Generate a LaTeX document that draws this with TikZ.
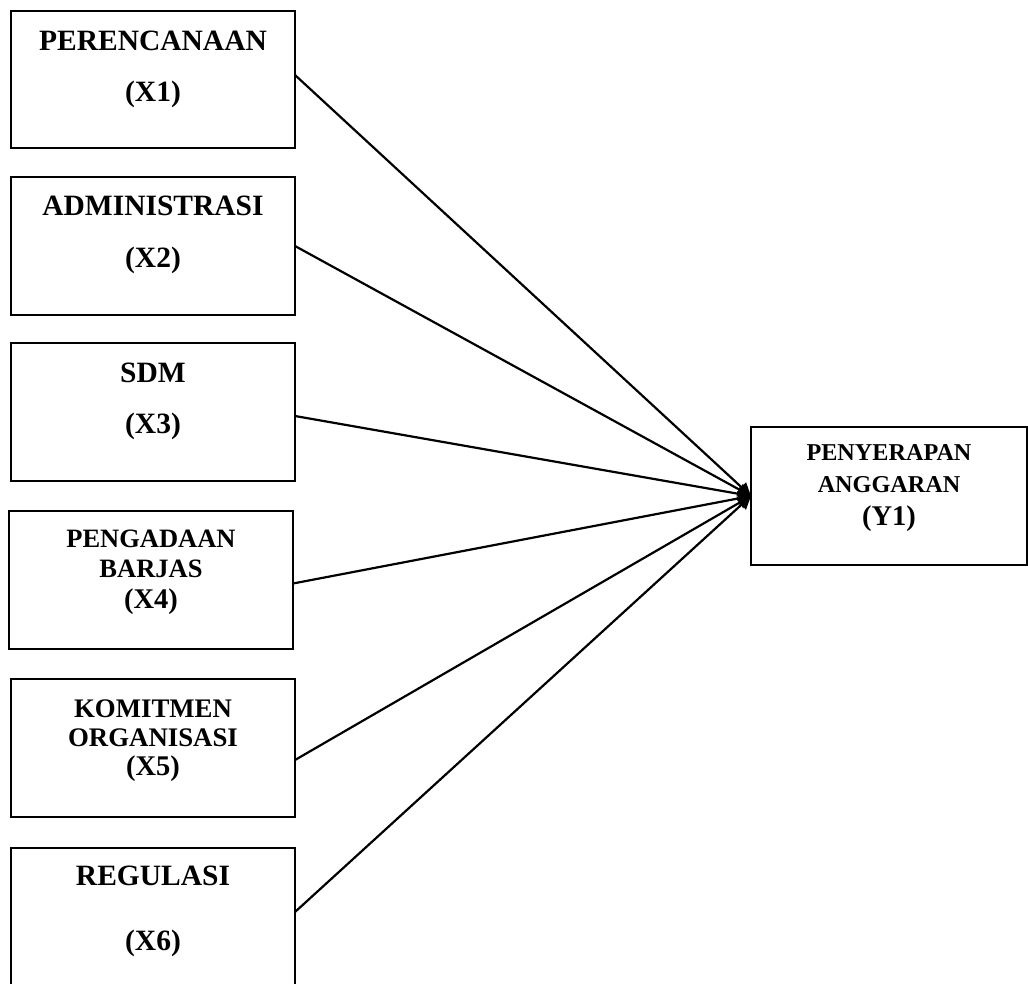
\documentclass[tikz,border=0pt]{standalone}
\usepackage{fontspec}
\setmainfont{Liberation Serif}
\usetikzlibrary{arrows.meta}
\newcommand\boxlines[4]{\parbox[c][#2][t]{#1}{\centering\bfseries\rule{0pt}{#3}#4}}
\tikzset{
  varbox/.style={draw, line width=2pt, inner sep=0pt, outer sep=0pt, anchor=north west},
  link/.style={line width=2.2pt, -{Triangle[length=13pt,width=13pt]}}
}
\begin{document}
\begin{tikzpicture}[x=1pt,y=-1pt]
\useasboundingbox (0,0) rectangle (1028,983);
\clip (0,0) rectangle (1028,983);
\node[varbox] (x1) at (11,11) {\boxlines{284pt}{137pt}{39pt}{\fontsize{29.5}{51.5}\selectfont PERENCANAAN\\(X1)}};
\node[varbox] (x2) at (11,177) {\boxlines{284pt}{138pt}{38pt}{\fontsize{29.5}{52}\selectfont ADMINISTRASI\\(X2)}};
\node[varbox] (x3) at (11,343) {\boxlines{284pt}{138pt}{39pt}{\fontsize{29.5}{51}\selectfont SDM\\(X3)}};
\node[varbox] (x4) at (9,511) {\boxlines{284pt}{138pt}{36pt}{\fontsize{26.5}{30.5}\selectfont PENGADAAN\\BARJAS\\\fontsize{28.5}{30.5}\selectfont (X4)}};
\node[varbox] (x5) at (11,679) {\boxlines{284pt}{138pt}{38pt}{\fontsize{26.8}{29}\selectfont KOMITMEN\\ORGANISASI\\\fontsize{28.5}{29.5}\selectfont (X5)}};
\node[varbox] (x6) at (11,848) {\boxlines{284pt}{138pt}{37pt}{\fontsize{29.5}{65}\selectfont REGULASI\\(X6)}};
\node[varbox] (y1) at (751,427) {\boxlines{276pt}{138pt}{33pt}{\fontsize{24.2}{32}\selectfont PENYERAPAN\\ANGGARAN\\\fontsize{28.5}{33}\selectfont (Y1)}};
\draw[link] ([yshift=4.5pt]x1.east) -- (y1.west);
\draw[link] (x2.east) -- (y1.west);
\draw[link] ([yshift=-4pt]x3.east) -- (y1.west);
\draw[link] ([yshift=-3.5pt]x4.east) -- (y1.west);
\draw[link] ([yshift=-12pt]x5.east) -- (y1.west);
\draw[link] ([yshift=5pt]x6.east) -- (y1.west);
\end{tikzpicture}
\end{document}
